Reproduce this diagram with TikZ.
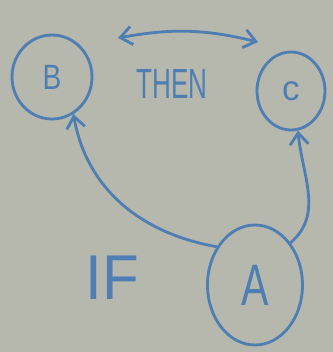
\documentclass[tikz,border=0pt]{standalone}
\usepackage{fontspec}
\setmainfont{Liberation Sans}
\usepackage{xcolor}
\usetikzlibrary{arrows.meta,shapes.geometric}

\definecolor{board}{HTML}{B6B7AD}
\definecolor{ink}{HTML}{4F7EB3}

\newcommand{\narrow}[2]{\scalebox{#1}[1]{#2}}

\begin{document}
\begin{tikzpicture}[x=0.03cm, y=-0.03cm,
  state/.style={draw=ink, ellipse, line width=2.4pt, inner sep=0pt,
                text=ink, font=\fontsize{30}{30}\selectfont},
  word/.style={text=ink, inner sep=0pt},
  arr/.style={draw=ink, line width=2.4pt, -{Straight Barb[length=3.5mm, width=5.5mm]}}
]
\fill[board] (0,0) rectangle (333,352);
\useasboundingbox (0,0) rectangle (333,352);

\node[state, minimum width=80*0.03cm, minimum height=84*0.03cm] (b) at (52,77) {\narrow{0.8}{B}};
\node[state, minimum width=68*0.03cm, minimum height=78*0.03cm] (c) at (291,91) {c};
\node[state, minimum width=95*0.03cm, minimum height=120*0.03cm,
      font=\fontsize{50}{50}\selectfont] (a) at (255,285) {\narrow{0.7}{A}};

\node[word, font=\fontsize{36}{36}\selectfont, xscale=0.62] (then) at (172,84) {THEN};
\node[word, font=\fontsize{54}{54}\selectfont, xscale=0.95] (if) at (112,278) {IF};

\draw[arr] (a.135) to[out=170,in=-80] (b.-60);
\draw[arr] (a.50) to[out=40,in=-85] (c.-80);
% the two conclusions go together
\draw[arr, {Straight Barb[length=3.5mm, width=5.5mm]}-{Straight Barb[length=3.5mm, width=5.5mm]}]
      (118,38) to[bend left=12] (258,42);
\end{tikzpicture}
\end{document}
